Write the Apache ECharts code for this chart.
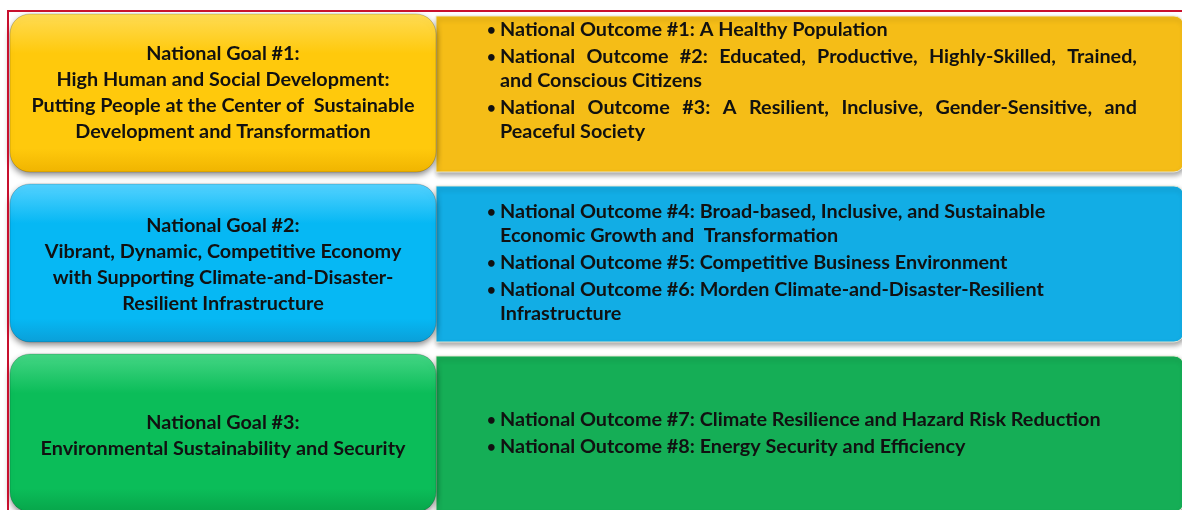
<!DOCTYPE html>
<html>
<head>
<meta charset="utf-8">
<script src="https://cdn.jsdelivr.net/npm/echarts@6/dist/echarts.min.js"></script>
<style>
html, body { margin: 0; padding: 0; background: #fff; }
#main { width: 1182px; height: 510px; }
</style>
</head>
<body>
<div id="main"></div>
<script>
// goals (rows of the y axis)
const goalTitles = ['National Goal #1:', 'National Goal #2:', 'National Goal #3:']
const goalSubtitles = [
  ['High Human and Social Development:', 'Putting People at the Center of  Sustainable', 'Development and Transformation'],
  ['Vibrant, Dynamic, Competitive Economy', 'with Supporting Climate-and-Disaster-', 'Resilient Infrastructure'],
  ['Environmental Sustainability and Security']
]
// outcomes per goal, each outcome split in its printed lines
const goalOutcomes = [
  [
    ['National Outcome #1: A Healthy Population'],
    ['National Outcome #2: Educated, Productive, Highly-Skilled, Trained,', 'and Conscious Citizens'],
    ['National Outcome #3: A Resilient, Inclusive, Gender-Sensitive, and', 'Peaceful Society']
  ],
  [
    ['National Outcome #4: Broad-based, Inclusive, and Sustainable', 'Economic Growth and  Transformation'],
    ['National Outcome #5: Competitive Business Environment'],
    ['National Outcome #6: Morden Climate-and-Disaster-Resilient', 'Infrastructure']
  ],
  [
    ['National Outcome #7: Climate Resilience and Hazard Risk Reduction'],
    ['National Outcome #8: Energy Security and Efficiency']
  ]
]

// styles
const goalGradients = [
  ['#FFDC55', '#FFC90C', '#F0B400'],
  ['#55D2FF', '#06B8F4', '#0A9FD8'],
  ['#45D685', '#0BBD59', '#07A54A']
]
const outcomeColors = ['#F5BD17', '#12ADE5', '#15AE56']
const goalTextCenter = [80, 82, 83] // from row top
const outcomeTextTop = [17, 29, 67] // centre of first line, from row top
const outcomeJustify = [true, false, false]

const FONT_SIZE = 19.8
const FONT_FAMILY = 'Lato'
const FONT = 'bold ' + FONT_SIZE + 'px ' + FONT_FAMILY
const measureCtx = document.createElement('canvas').getContext('2d')
measureCtx.font = FONT
const textWidth = s => measureCtx.measureText(s).width

const chartInstance = echarts.init(document.getElementById('main'))

function txt (x, y, text, align, font) {
  return {
    type: 'text',
    x: x,
    y: y,
    style: {
      text: text,
      fill: '#111',
      font: font || FONT,
      align: align || 'left',
      verticalAlign: 'middle'
    }
  }
}

function renderRow (params, api) {
  const i = params.dataIndex
  const center = api.coord([0, i])
  const bandH = api.size([0, 1])[1]
  const top = center[1] - bandH / 2
  const gx0 = api.coord([10, i])[0]
  const gx1 = api.coord([436, i])[0]
  const ox1 = api.coord([1184, i])[0]
  const g = goalGradients[i]
  const children = []

  // outcome panel
  children.push({
    type: 'rect',
    shape: { x: gx1, y: top + 3, width: ox1 - gx1, height: 156, r: [0, 10, 10, 0] },
    style: {
      fill: outcomeColors[i],
      stroke: 'rgba(235,235,215,0.9)',
      lineWidth: 1,
      shadowBlur: 5,
      shadowOffsetX: 1,
      shadowOffsetY: 3,
      shadowColor: 'rgba(0,0,0,0.35)'
    }
  })

  // goal box
  children.push({
    type: 'rect',
    shape: { x: gx0, y: top + 1, width: gx1 - gx0, height: 158, r: 20 },
    style: {
      fill: new echarts.graphic.LinearGradient(0, 0, 0, 1, [
        { offset: 0, color: g[0] },
        { offset: 0.25, color: g[1] },
        { offset: 0.85, color: g[1] },
        { offset: 1, color: g[2] }
      ]),
      stroke: 'rgba(0,0,0,0.18)',
      lineWidth: 1,
      shadowBlur: 6,
      shadowOffsetY: 3,
      shadowColor: 'rgba(0,0,0,0.45)'
    }
  })

  // goal text
  const goalLines = [goalTitles[i]].concat(goalSubtitles[i])
  const lh = 26
  const gcx = (gx0 + gx1) / 2
  const gcy = top + goalTextCenter[i]
  goalLines.forEach((line, k) => {
    children.push(txt(gcx, gcy + (k - (goalLines.length - 1) / 2) * lh, line, 'center'))
  })

  // outcome text
  const textX = 500
  const textRight = 1137
  let y = top + outcomeTextTop[i]
  goalOutcomes[i].forEach((lines, k) => {
    if (k > 0) y += 3
    children.push(txt(textX - 13, y, '\u2022', 'left', 'bold 15px ' + FONT_FAMILY))
    lines.forEach((line, j) => {
      const justify = outcomeJustify[i] && j < lines.length - 1
      if (justify) {
        const words = line.split(/\s+/)
        const total = words.reduce((s, w) => s + textWidth(w), 0)
        const gap = (textRight - textX - total) / (words.length - 1)
        let x = textX
        words.forEach(w => {
          children.push(txt(x, y, w))
          x += textWidth(w) + gap
        })
      } else {
        children.push(txt(textX, y, line))
      }
      y += 24
    })
  })

  return { type: 'group', children: children }
}

chartInstance.setOption({
  animation: false,
  grid: { left: 0, right: 0, top: 13, height: 510, outerBoundsMode: 'none', containLabel: false },
  xAxis: { type: 'value', min: 0, max: 1182, show: false },
  yAxis: { type: 'category', data: goalTitles, inverse: true, show: false },
  graphic: [
    {
      type: 'polyline',
      shape: { points: [[8, 512], [8, 11], [1182, 11]] },
      style: { stroke: '#C8102E', lineWidth: 2, fill: null },
      z: 10
    }
  ],
  series: [
    {
      type: 'custom',
      renderItem: renderRow,
      clip: false,
      data: goalTitles.map((name, i) => ({ name: name, value: [0, i] }))
    }
  ]
})
</script>
</body>
</html>
